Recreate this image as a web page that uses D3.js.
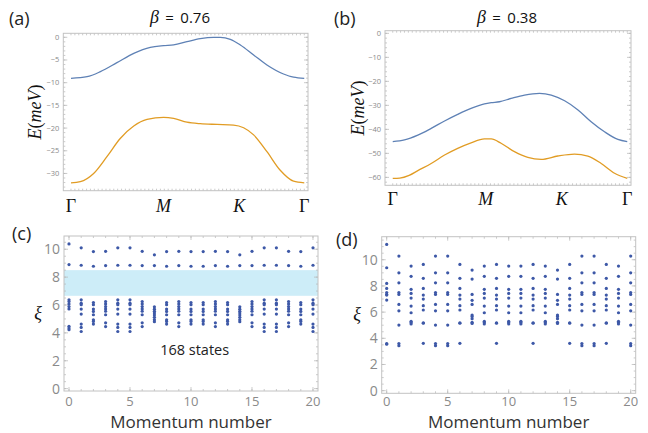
<!DOCTYPE html>
<html>
<head>
<meta charset="utf-8">
<script src="https://d3js.org/d3.v7.min.js"></script>
<style>
  body { margin: 0; background: #fff; }
  svg { font-family: 'Open Sans', sans-serif; }
  .frame { fill: none; stroke: #c2c2c2; stroke-width: 1px; }
  .tick-mark { stroke: #b5b5b5; stroke-width: 0.7px; }
  .serif { font-family: 'Liberation Serif', 'DejaVu Serif', serif; }
</style>
</head>
<body>
<div id="chart"></div>
<script>
// ---- data ----
// band path coordinate: Γ = 0, M, K, back to Γ = 1
var pathTicks = [0, 0.397, 0.721, 1];
var pathLabels = ["Γ", "M", "K", "Γ"];

// (a) beta = 0.76
var tA_upper = [0, .069, .126, .197, .269, .340, .397, .440, .497, .554, .611, .640, .683, .726, .783, .840, .911, .954, 1];
var eA_upper = [-9.04, -8.68, -7.57, -5.59, -3.53, -2.2, -1.84, -1.69, -0.96, -0.29, 0, 0, -0.44, -1.69, -3.9, -6.1, -8.09, -8.8, -9.04];
var tA_lower = [0, .04, .097, .154, .211, .269, .326, .397, .44, .497, .554, .626, .697, .74, .783, .84, .897, .954, 1];
var eA_lower = [-32.06, -31.8, -30, -26.3, -22.3, -19.56, -18.1, -17.65, -17.87, -18.7, -19.04, -19.2, -19.34, -19.93, -21.5, -25.2, -29.3, -31.7, -32.06];

// (b) beta = 0.38
var tB_upper = [0, .05, .107, .164, .221, .277, .334, .391, .42, .455, .505, .562, .626, .676, .733, .790, .846, .903, .960, 1];
var eB_upper = [-45.1, -44.4, -42.4, -39.6, -36.5, -33.75, -31.25, -29.4, -28.9, -28.5, -27.1, -25.7, -25, -25.7, -28.1, -31.9, -36.8, -41, -44.2, -45.1];
var tB_lower = [0, .03, .07, .107, .164, .221, .277, .334, .391, .42, .462, .519, .576, .633, .704, .775, .832, .889, .946, 1];
var eB_lower = [-60.4, -60.3, -59.2, -57.2, -54.2, -50.7, -47.9, -45.6, -44, -44, -45.8, -49.3, -51.7, -52.5, -51.1, -50.3, -51.1, -54.2, -58.3, -60.4];

// entanglement spectra: each momentum column follows one of a few patterns
var momenta = [0, 1, 2, 3, 4, 5, 6, 7, 8, 9, 10, 11, 12, 13, 14, 15, 16, 17, 18, 19, 20];
var columnType = ["0", "A", "C", "D", "A", "A", "D", "E", "C", "D", "C", "C", "D", "C", "E", "D", "A", "A", "D", "C", "A"];

var xiC = {
  "0": [10.38, 8.9, 6.37, 6.25, 6.08, 5.89, 5.72, 4.47, 4.35, 4.23],
  "A": [10.1, 8.85, 6.37, 6.13, 6.02, 5.71, 5.35, 4.63, 4.39, 4.1],
  "C": [9.83, 8.78, 6.18, 6.02, 5.71, 5.54, 5.3, 4.94, 4.82, 4.63],
  "D": [9.85, 8.83, 6.25, 6.08, 5.89, 5.72, 5.55, 5.3, 4.72, 4.45],
  "E": [9.6, 8.83, 5.87, 5.7, 5.55, 5.42, 5.28, 5.12, 4.95, 4.8]
};
var xiD = {
  "0": [11.17, 9.39, 8.19, 7.81, 7.5, 7.35, 7.3, 6.92, 3.6, 3.55],
  "A": [10.28, 9.0, 8.24, 7.5, 7.35, 6.59, 6.1, 5.01, 3.6, 3.44],
  "C": [9.52, 8.73, 7.74, 7.43, 7.07, 6.46, 5.95, 5.3, 5.2, 5.1],
  "D": [9.64, 8.58, 7.81, 7.3, 7.0, 6.49, 6.16, 5.19, 5.15, 3.62],
  "E": [9.21, 8.52, 7.35, 6.9, 6.59, 5.78, 5.67, 5.5, 5.22, 5.14]
};
var gapBand = [6.66, 8.5];

var blue = "#5e81b5", orange = "#e19c24", dotColor = "#3d58a7";

var svg = d3.select("#chart").append("svg")
  .attr("width", 648)
  .attr("height", 433);

// frame with inward ticks on all sides (Mathematica style)
function drawFrame(x, y, xMajor, xMinor, yMajor, yMinor) {
  var x0 = x.range()[0], x1 = x.range()[1], yb = y.range()[0], yt = y.range()[1];
  var g = svg.append("g");
  function tick(v, len, horiz) {
    if (horiz) {
      g.append("line").attr("class", "tick-mark").attr("x1", x(v)).attr("x2", x(v)).attr("y1", yb).attr("y2", yb - len);
      g.append("line").attr("class", "tick-mark").attr("x1", x(v)).attr("x2", x(v)).attr("y1", yt).attr("y2", yt + len);
    } else {
      g.append("line").attr("class", "tick-mark").attr("y1", y(v)).attr("y2", y(v)).attr("x1", x0).attr("x2", x0 + len);
      g.append("line").attr("class", "tick-mark").attr("y1", y(v)).attr("y2", y(v)).attr("x1", x1).attr("x2", x1 - len);
    }
  }
  xMinor.forEach(v => tick(v, 2, true));
  xMajor.forEach(v => tick(v, 4, true));
  yMinor.forEach(v => tick(v, 2, false));
  yMajor.forEach(v => tick(v, 4, false));
  g.append("rect").attr("class", "frame")
    .attr("x", x0).attr("y", yt).attr("width", x1 - x0).attr("height", yb - yt);
  return g;
}

function panelLabel(txt, px, py) {
  svg.append("text").attr("x", px).attr("y", py)
    .style("font-size", "18px").style("fill", "#222").text(txt);
}

// ---------- band panels ----------
function bandPanel(opt) {
  var x = d3.scaleLinear().domain([-0.033, 1.016]).range([opt.left, opt.right]);
  var y = d3.scaleLinear().domain(opt.ydom).range([opt.bottom, opt.top]);

  var minorX = d3.range(0, 1.001, 1 / 60);
  drawFrame(x, y, [], minorX, opt.yMajor, opt.yMinor);

  svg.append("g").selectAll("text").data(opt.yMajor).join("text")
    .attr("x", opt.left - 4).attr("y", d => y(d) + 2.5)
    .attr("text-anchor", "end")
    .style("font-size", "7.5px").style("fill", "#8a8a8a")
    .text(d => d3.format("")(d).replace("-", "−"));

  var line = d3.line().curve(d3.curveMonotoneX).x(d => x(d[0])).y(d => y(d[1]));
  svg.append("path").datum(d3.zip(opt.tUp, opt.eUp))
    .attr("d", line).attr("fill", "none").attr("stroke", blue).attr("stroke-width", 1.3);
  svg.append("path").datum(d3.zip(opt.tLo, opt.eLo))
    .attr("d", line).attr("fill", "none").attr("stroke", orange).attr("stroke-width", 1.3);

  svg.append("g").selectAll("text").data(pathTicks).join("text")
    .attr("class", "serif")
    .attr("x", d => x(d)).attr("y", opt.labelY)
    .attr("text-anchor", "middle")
    .style("font-size", "18px").style("fill", "#111")
    .style("font-style", (d, i) => (i === 1 || i === 2) ? "italic" : "normal")
    .text((d, i) => pathLabels[i]);

  // y label E(meV)
  var yl = svg.append("text").attr("class", "serif")
    .attr("transform", "translate(" + opt.ylabX + "," + ((opt.top + opt.bottom) / 2) + ") rotate(-90)")
    .attr("text-anchor", "middle")
    .style("font-size", "18px").style("fill", "#111");
  yl.append("tspan").style("font-style", "italic").text("E");
  yl.append("tspan").text("(");
  yl.append("tspan").style("font-style", "italic").text("meV");
  yl.append("tspan").text(")");

  // title
  var tt = svg.append("text").attr("x", opt.titleX).attr("y", 23)
    .attr("text-anchor", "middle").style("font-size", "15px").style("fill", "#111");
  tt.append("tspan").attr("class", "serif").style("font-style", "italic").style("font-size", "18px").text("β");
  tt.append("tspan").text("\u2009 = \u2009" + opt.beta);
}

bandPanel({
  left: 63.3, right: 308, top: 33.3, bottom: 190.7, ydom: [-33.8, 0.88],
  yMajor: d3.range(-30, 1, 5), yMinor: d3.range(-33, 1, 1),
  tUp: tA_upper, eUp: eA_upper, tLo: tA_lower, eLo: eA_lower,
  labelY: 212, ylabX: 41, titleX: 180, beta: "0.76"
});
bandPanel({
  left: 385, right: 631, top: 30.7, bottom: 185.3, ydom: [-63.3, 1.1],
  yMajor: d3.range(-60, 1, 10), yMinor: d3.range(-62, 1, 2),
  tUp: tB_upper, eUp: eB_upper, tLo: tB_lower, eLo: eB_lower,
  labelY: 205, ylabX: 364, titleX: 507, beta: "0.38"
});
panelLabel("(a)", 9, 25);
panelLabel("(b)", 334, 25);

// ---------- entanglement spectrum panels ----------
function specPanel(opt) {
  var x = d3.scaleLinear().domain([-0.41, 20.41]).range([opt.left, opt.right]);
  var y = d3.scaleLinear().domain(opt.ydom).range([opt.bottom, opt.top]);

  if (opt.band) {
    svg.append("rect")
      .attr("x", opt.left).attr("width", opt.right - opt.left)
      .attr("y", y(opt.band[1])).attr("height", y(opt.band[0]) - y(opt.band[1]))
      .attr("fill", "#cdedf8");
  }

  drawFrame(x, y, d3.range(0, 21, 5), d3.range(0, 21, 1),
    d3.range(0, 11, 2), d3.range(0, opt.ydom[1], 0.5));

  svg.append("g").selectAll("text").data(d3.range(0, 11, 2)).join("text")
    .attr("x", opt.left - 4).attr("y", d => y(d) + 5)
    .attr("text-anchor", "end")
    .style("font-size", "14px").style("fill", "#8a8a8a").text(d => d);

  svg.append("g").selectAll("text").data(d3.range(0, 21, 5)).join("text")
    .attr("x", d => x(d)).attr("y", 405.5)
    .attr("text-anchor", "middle")
    .style("font-size", "13px").style("fill", "#8a8a8a").text(d => d);

  var pts = [];
  momenta.forEach((k, i) => {
    opt.spec[columnType[i]].forEach(v => pts.push([k, v]));
  });
  svg.append("g").selectAll("circle").data(pts).join("circle")
    .attr("cx", d => x(d[0])).attr("cy", d => y(d[1]))
    .attr("r", 1.6).attr("fill", dotColor);

  svg.append("text").attr("x", (opt.left + opt.right) / 2).attr("y", 428)
    .attr("text-anchor", "middle")
    .style("font-size", "17px").style("fill", "#333").text("Momentum number");

  svg.append("text").attr("class", "serif")
    .attr("x", opt.xiX).attr("y", (opt.top + opt.bottom) / 2 + 5)
    .attr("text-anchor", "middle")
    .style("font-size", "18px").style("font-style", "italic").style("fill", "#111")
    .text("ξ");
  return { x: x, y: y };
}

var pc = specPanel({
  left: 64, right: 318, top: 236, bottom: 391, ydom: [-0.17, 10.95],
  spec: xiC, band: gapBand, xiX: 38
});
svg.append("text").attr("x", pc.x(10.3)).attr("y", 354.5)
  .attr("text-anchor", "middle")
  .style("font-size", "14.5px").style("fill", "#222").text("168 states");

specPanel({
  left: 381.7, right: 635.7, top: 236.7, bottom: 393.3, ydom: [-0.2, 11.76],
  spec: xiD, band: null, xiX: 357
});
panelLabel("(c)", 12, 240);
panelLabel("(d)", 336, 246);
</script>
</body>
</html>
